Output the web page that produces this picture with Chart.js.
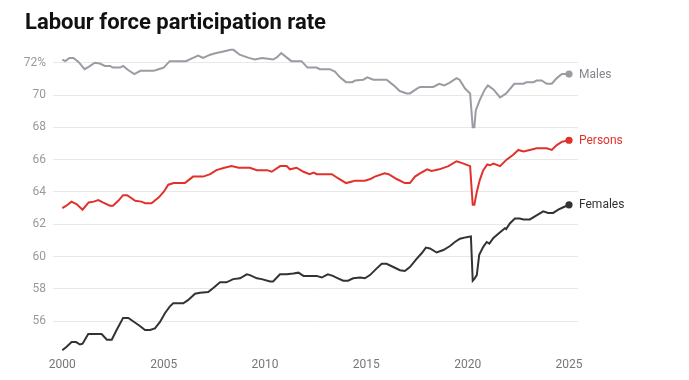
<!DOCTYPE html>
<html>
<head>
<meta charset="utf-8">
<script src="https://cdn.jsdelivr.net/npm/chart.js@4"></script>
<style>
  html, body { margin: 0; padding: 0; background: #ffffff; }
  #wrap { position: relative; width: 689px; height: 380px; }
  h1 { position: absolute; left: 25px; top: 11px; margin: 0; font-family: Roboto, sans-serif;
       font-weight: 700; font-size: 22px; line-height: 22px; color: #111; letter-spacing: 0; }
  canvas { position: absolute; left: 0; top: 0; }
</style>
</head>
<body>
<div id="wrap">
  <canvas id="c" width="689" height="380"></canvas>
  <h1>Labour force participation rate</h1>
</div>
<script>
// ---- Data (decimal year, percent) ----
const malesX = [2000.00,2000.15,2000.35,2000.55,2000.80,2001.10,2001.30,2001.60,2001.85,2002.10,2002.35,2002.50,2002.85,2003.00,2003.25,2003.55,2003.85,2004.50,2004.75,2005.00,2005.30,2006.10,2006.45,2006.70,2006.95,2007.30,2007.60,2007.95,2008.30,2008.45,2008.75,2009.20,2009.50,2009.85,2010.15,2010.40,2010.60,2010.80,2011.05,2011.30,2011.80,2012.10,2012.55,2012.70,2013.20,2013.45,2013.70,2014.00,2014.30,2014.45,2014.85,2015.05,2015.35,2016.00,2016.35,2016.65,2017.00,2017.15,2017.50,2017.65,2018.30,2018.60,2018.85,2019.10,2019.45,2019.60,2019.87,2020.12,2020.25,2020.33,2020.40,2020.60,2020.85,2021.00,2021.27,2021.60,2021.90,2022.30,2022.75,2022.90,2023.25,2023.40,2023.65,2023.90,2024.15,2024.40,2024.65,2025.00];
const malesY = [72.2,72.1,72.3,72.3,72.05,71.6,71.75,72.0,71.95,71.8,71.8,71.7,71.7,71.8,71.55,71.3,71.5,71.5,71.6,71.7,72.1,72.1,72.3,72.45,72.3,72.5,72.6,72.7,72.8,72.8,72.5,72.3,72.2,72.3,72.25,72.2,72.35,72.6,72.35,72.1,72.1,71.7,71.7,71.6,71.6,71.45,71.1,70.8,70.8,70.9,70.95,71.1,70.95,70.95,70.6,70.25,70.1,70.1,70.4,70.5,70.5,70.7,70.6,70.75,71.05,70.95,70.4,70.1,68.0,68.0,69.05,69.7,70.35,70.6,70.35,69.85,70.1,70.7,70.7,70.8,70.8,70.9,70.9,70.7,70.7,71.05,71.3,71.3];

const personsX = [2000.00,2000.20,2000.45,2000.70,2001.00,2001.30,2001.55,2001.78,2002.00,2002.35,2002.50,2002.76,2003.00,2003.20,2003.60,2003.90,2004.10,2004.40,2004.75,2005.00,2005.23,2005.50,2006.05,2006.20,2006.45,2006.95,2007.30,2007.60,2008.00,2008.35,2008.70,2009.25,2009.60,2010.10,2010.33,2010.75,2011.07,2011.23,2011.56,2011.90,2012.20,2012.40,2012.55,2013.30,2013.60,2014.00,2014.30,2014.45,2014.93,2015.20,2015.42,2015.90,2016.10,2016.50,2016.90,2017.15,2017.40,2017.65,2018.00,2018.22,2018.60,2019.05,2019.45,2019.70,2020.12,2020.25,2020.33,2020.45,2020.60,2020.77,2020.97,2021.10,2021.27,2021.60,2021.92,2022.25,2022.50,2022.75,2023.07,2023.40,2023.90,2024.15,2024.40,2024.64,2025.00];
const personsY = [63.0,63.15,63.4,63.25,62.9,63.35,63.4,63.5,63.35,63.15,63.15,63.45,63.8,63.8,63.45,63.4,63.3,63.3,63.65,64.0,64.45,64.55,64.55,64.7,64.95,64.95,65.1,65.35,65.5,65.6,65.5,65.5,65.35,65.35,65.25,65.6,65.6,65.4,65.5,65.25,65.1,65.2,65.1,65.1,64.85,64.55,64.65,64.7,64.7,64.8,64.95,65.15,65.1,64.8,64.55,64.55,64.95,65.15,65.4,65.3,65.4,65.6,65.9,65.8,65.6,63.2,63.2,64.0,64.75,65.35,65.7,65.65,65.75,65.6,66.0,66.3,66.6,66.5,66.6,66.7,66.7,66.6,66.9,67.1,67.2];

const femalesX = [2000.00,2000.20,2000.46,2000.68,2000.87,2001.00,2001.28,2001.94,2002.20,2002.44,2002.68,2003.00,2003.26,2003.60,2003.83,2004.08,2004.33,2004.57,2004.82,2005.07,2005.30,2005.47,2005.97,2006.20,2006.55,2006.80,2007.20,2007.45,2007.78,2008.10,2008.43,2008.77,2009.10,2009.26,2009.60,2009.84,2010.25,2010.40,2010.74,2011.07,2011.40,2011.65,2011.90,2012.55,2012.80,2013.10,2013.35,2013.60,2013.86,2014.10,2014.35,2014.70,2014.93,2015.18,2015.50,2015.76,2016.00,2016.33,2016.66,2016.90,2017.15,2017.48,2017.73,2017.94,2018.14,2018.47,2018.80,2019.13,2019.37,2019.62,2019.95,2020.16,2020.25,2020.35,2020.45,2020.57,2020.77,2020.94,2021.07,2021.27,2021.60,2021.84,2021.90,2022.08,2022.33,2022.57,2022.75,2023.07,2023.40,2023.73,2023.97,2024.22,2024.47,2024.72,2025.00];
const femalesY = [54.2,54.4,54.7,54.7,54.55,54.6,55.2,55.2,54.85,54.85,55.45,56.2,56.2,55.9,55.7,55.45,55.45,55.55,55.95,56.5,56.9,57.1,57.1,57.3,57.7,57.75,57.8,58.05,58.4,58.4,58.6,58.65,58.9,58.85,58.65,58.6,58.45,58.45,58.9,58.9,58.95,59.0,58.8,58.8,58.7,58.9,58.8,58.65,58.5,58.5,58.65,58.7,58.65,58.85,59.25,59.55,59.55,59.35,59.15,59.1,59.35,59.85,60.2,60.55,60.5,60.25,60.4,60.65,60.9,61.1,61.2,61.25,58.5,58.65,58.85,60.1,60.6,60.9,60.8,61.15,61.5,61.75,61.7,62.05,62.35,62.35,62.3,62.3,62.55,62.8,62.7,62.7,62.9,63.05,63.2];

const seriesNames = ['Males', 'Persons', 'Females'];
const xTicks = [2000, 2005, 2010, 2015, 2020, 2025];
const yTicks = [56, 58, 60, 62, 64, 66, 68, 70, 72];

// ---- Build ----
const zip = (xs, ys) => xs.map((x, i) => ({ x: x, y: ys[i] }));
const colors = ['#9b9ba3', '#e2312b', '#333333'];
const labelColors = ['#85858d', '#e2312b', '#333333'];
const series = [zip(malesX, malesY), zip(personsX, personsY), zip(femalesX, femalesY)];

const endLabels = {
  id: 'endLabels',
  afterDatasetsDraw(chart) {
    const ctx = chart.ctx;
    ctx.save();
    ctx.font = '12px Roboto, sans-serif';
    ctx.textBaseline = 'middle';
    ctx.textAlign = 'left';
    chart.data.datasets.forEach((ds, i) => {
      const meta = chart.getDatasetMeta(i);
      const pt = meta.data[meta.data.length - 1];
      ctx.fillStyle = labelColors[i];
      ctx.fillText(ds.label, pt.x + 10, pt.y + 0.5);
    });
    ctx.restore();
  }
};

new Chart(document.getElementById('c'), {
  type: 'line',
  data: {
    datasets: series.map((d, i) => ({
      label: seriesNames[i],
      data: d,
      borderColor: colors[i],
      backgroundColor: colors[i],
      borderWidth: 2,
      tension: 0,
      pointRadius: (ctx) => ctx.dataIndex === d.length - 1 ? 3.6 : 0,
      pointHoverRadius: 0,
      pointBorderWidth: 0,
      fill: false
    }))
  },
  options: {
    responsive: false,
    animation: false,
    devicePixelRatio: 1,
    layout: { padding: { top: 45, right: 111, left: 0, bottom: 0 } },
    plugins: { legend: { display: false }, title: { display: false }, tooltip: { enabled: false } },
    events: [],
    scales: {
      x: {
        type: 'linear',
        min: 1999.541,
        max: 2025.444,
        afterBuildTicks: (s) => { s.ticks = xTicks.map(v => ({ value: v })); },
        afterFit: (s) => { s.height = 26.6; },
        grid: { display: false },
        border: { display: false },
        ticks: {
          autoSkip: false, maxRotation: 0, padding: -4,
          color: '#777777',
          font: { family: 'Roboto, sans-serif', size: 12 },
          callback: (v) => String(v)
        }
      },
      y: {
        type: 'linear',
        min: 54.0,
        max: 73.1,
        afterBuildTicks: (s) => { s.ticks = yTicks.map(v => ({ value: v })); },
        afterFit: (s) => { s.width = 53; },
        grid: { color: '#e8e8e8', lineWidth: 1, drawTicks: false },
        border: { display: false },
        ticks: {
          padding: 7,
          color: '#9a9a9a',
          font: { family: 'Roboto, sans-serif', size: 12 },
          callback: (v) => v === 72 ? '72%' : String(v)
        }
      }
    }
  },
  plugins: [endLabels]
});
</script>
</body>
</html>
